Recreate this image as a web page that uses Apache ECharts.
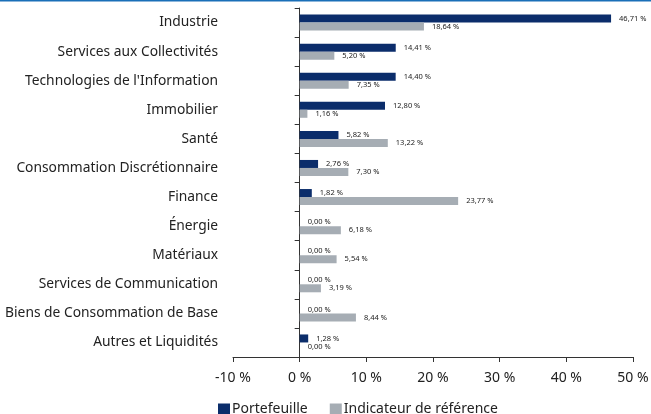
<!DOCTYPE html>
<html>
<head>
<meta charset="utf-8">
<script src="https://cdn.jsdelivr.net/npm/echarts@6/dist/echarts.min.js"></script>
<style>
  html, body { margin: 0; padding: 0; background: #fff; }
  #chart { width: 651px; height: 414px; }
</style>
</head>
<body>
<div id="chart"></div>
<script>
// sectors, top to bottom
const categories = [
  'Industrie',
  'Services aux Collectivités',
  "Technologies de l'Information",
  'Immobilier',
  'Santé',
  'Consommation Discrétionnaire',
  'Finance',
  'Énergie',
  'Matériaux',
  'Services de Communication',
  'Biens de Consommation de Base',
  'Autres et Liquidités'
]
const portefeuille = [46.71, 14.41, 14.40, 12.80, 5.82, 2.76, 1.82, 0.00, 0.00, 0.00, 0.00, 1.28]
const indicateur = [18.64, 5.20, 7.35, 1.16, 13.22, 7.30, 23.77, 6.18, 5.54, 3.19, 8.44, 0.00]
const seriesNames = ['Portefeuille', 'Indicateur de référence']

const FONT = '"Noto Sans", sans-serif'
const fmtPct = v => v.toFixed(2).replace('.', ',') + ' %'

const valueLabel = {
  show: true,
  position: 'right',
  distance: 8,
  fontSize: 7.5,
  color: '#222',
  fontFamily: FONT,
  formatter: p => fmtPct(p.value)
}

const chart = echarts.init(document.getElementById('chart'))

const option = {
  animation: false,
  color: ['#0b2d6b', '#a6adb4'],
  graphic: [
    {
      type: 'rect',
      left: 0,
      top: 0,
      shape: { width: 651, height: 1.5 },
      style: { fill: '#1a6fb8' }
    }
  ],
  legend: {
    top: 402,
    left: 218,
    padding: 0,
    itemWidth: 12,
    itemHeight: 11,
    itemGap: 22,
    icon: 'rect',
    textStyle: { fontSize: 14, color: '#222', fontFamily: FONT, padding: [0, 0, 0, -3] },
    data: seriesNames
  },
  grid: {
    left: 233,
    right: 18,
    top: 8,
    bottom: 57,
    outerBoundsMode: 'none',
    containLabel: false
  },
  xAxis: {
    type: 'value',
    min: -10,
    max: 50,
    interval: 10,
    splitLine: { show: false },
    axisLine: { show: true, lineStyle: { color: '#333', width: 1 } },
    axisTick: { show: true, length: 5, lineStyle: { color: '#333' } },
    axisLabel: {
      fontSize: 14,
      color: '#222',
      fontFamily: FONT,
      margin: 14,
      formatter: v => v + ' %'
    }
  },
  yAxis: {
    type: 'category',
    inverse: true,
    data: categories,
    axisLine: { show: true, onZero: true, lineStyle: { color: '#333', width: 1 } },
    axisTick: { show: true, length: 5, lineStyle: { color: '#333' } },
    axisLabel: {
      fontSize: 13.8,
      color: '#222',
      fontFamily: FONT,
      margin: 15
    }
  },
  series: [
    {
      name: seriesNames[0],
      type: 'bar',
      barWidth: 8,
      barGap: '0%',
      data: portefeuille,
      label: valueLabel
    },
    {
      name: seriesNames[1],
      type: 'bar',
      barWidth: 8,
      barGap: '0%',
      data: indicateur,
      label: valueLabel
    }
  ]
}

chart.setOption(option)
</script>
</body>
</html>
